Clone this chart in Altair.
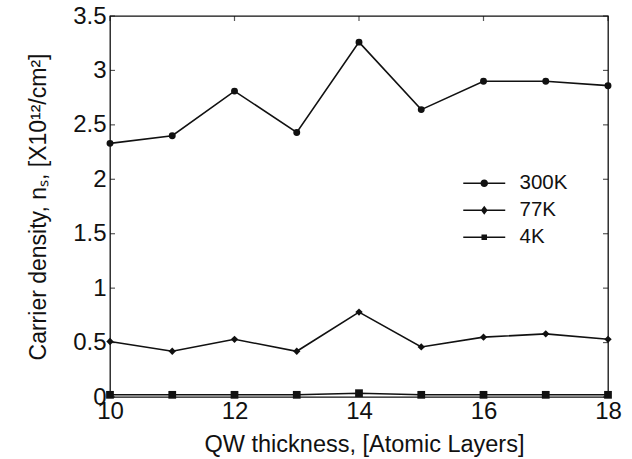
import altair as alt
import pandas as pd

# Carrier density (x10^12 / cm^2) versus quantum-well thickness
thickness = [10, 11, 12, 13, 14, 15, 16, 17, 18]
n_300k = [2.33, 2.40, 2.81, 2.43, 3.26, 2.64, 2.90, 2.90, 2.86]
n_77k = [0.51, 0.42, 0.53, 0.42, 0.78, 0.46, 0.55, 0.58, 0.53]
n_4k = [0.02, 0.02, 0.02, 0.02, 0.035, 0.02, 0.02, 0.02, 0.02]
series = ["300K", "77K", "4K"]
x_ticks = [10, 12, 14, 16, 18]
y_ticks = [0, 0.5, 1, 1.5, 2, 2.5, 3, 3.5]

rows = []
for name, vals in zip(series, [n_300k, n_77k, n_4k]):
    for t, v in zip(thickness, vals):
        rows.append({"thickness": t, "density": v, "series": name})
df = pd.DataFrame(rows)

FONT = "Liberation Sans"
INK = "#111111"

x_scale = alt.Scale(domain=[10, 18], nice=False, zero=False)
y_scale = alt.Scale(domain=[0, 3.5], nice=False)

x_enc = alt.X(
    "thickness:Q",
    scale=x_scale,
    axis=alt.Axis(
        values=x_ticks, format="d", ticks=False, domain=False, grid=False,
        labelFontSize=24, labelPadding=2, labelFlush=False,
        title="QW thickness, [Atomic Layers]", titleFontSize=23.5,
        titlePadding=9, titleX=254,
    ),
)
y_enc = alt.Y(
    "density:Q",
    scale=y_scale,
    axis=alt.Axis(
        values=y_ticks, format="~g", ticks=False, domain=False, grid=False,
        labelFontSize=24, labelPadding=4, labelFlush=False,
        title="Carrier density, nₛ, [X10¹²/cm²]", titleFontSize=23,
        titlePadding=22,
    ),
)

lines = alt.Chart(df).mark_line(color=INK, strokeWidth=1.6).encode(
    x=x_enc, y=y_enc, detail="series:N"
)

points = alt.Chart(df).mark_point(filled=True, color=INK, opacity=1).encode(
    x="thickness:Q",
    y="density:Q",
    shape=alt.Shape(
        "series:N",
        scale=alt.Scale(domain=series, range=["circle", "diamond", "square"]),
        legend=None,
    ),
    size=alt.Size(
        "series:N",
        scale=alt.Scale(domain=series, range=[48, 60, 30]),
        legend=None,
    ),
)

# Legend keys: a short line with the series marker in the middle
legend_paths = [
    "M-2.5,-0.08L2.5,-0.08L2.5,0.08L-2.5,0.08Z"
    "M-0.45,0A0.45,0.45,0,1,1,0.45,0A0.45,0.45,0,1,1,-0.45,0Z",
    "M-2.5,-0.08L2.5,-0.08L2.5,0.08L-2.5,0.08Z"
    "M0,-0.55L0.4,0L0,0.55L-0.4,0Z",
    "M-2.5,-0.08L2.5,-0.08L2.5,0.08L-2.5,0.08Z"
    "M-0.33,-0.33L0.33,-0.33L0.33,0.33L-0.33,0.33Z",
]
legend_df = pd.DataFrame({"key": series})
legend_layer = (
    alt.Chart(legend_df)
    .transform_filter("false")
    .mark_point(filled=True, color=INK, opacity=1)
    .encode(
        shape=alt.Shape(
            "key:N",
            scale=alt.Scale(domain=series, range=legend_paths),
            legend=alt.Legend(
                title=None, orient="none", legendX=364, legendY=157,
                labelFontSize=20.5, labelFont=FONT, labelColor=INK,
                labelOffset=25, symbolSize=282, rowPadding=6,
                symbolFillColor=INK, symbolStrokeColor=INK,
                symbolStrokeWidth=0, symbolOpacity=1, padding=0,
            ),
        )
    )
)

# Inward tick marks on all four sides of the box
xt = pd.DataFrame({"thickness": x_ticks})
yt = pd.DataFrame({"density": y_ticks})
tick_style = dict(color=INK, thickness=1.2, size=5)
ticks_bottom = alt.Chart(xt).mark_tick(orient="vertical", yOffset=-2.5, **tick_style).encode(
    x="thickness:Q", y=alt.datum(0)
)
ticks_top = alt.Chart(xt).mark_tick(orient="vertical", yOffset=2.5, **tick_style).encode(
    x="thickness:Q", y=alt.datum(3.5)
)
ticks_left = alt.Chart(yt).mark_tick(orient="horizontal", xOffset=2.5, **tick_style).encode(
    y="density:Q", x=alt.datum(10)
)
ticks_right = alt.Chart(yt).mark_tick(orient="horizontal", xOffset=-2.5, **tick_style).encode(
    y="density:Q", x=alt.datum(18)
)

chart = (
    alt.layer(lines, points, ticks_bottom, ticks_top, ticks_left, ticks_right, legend_layer)
    .resolve_scale(shape="independent")
    .properties(
        width=498,
        height=381,
        autosize=alt.AutoSizeParams(type="none"),
        padding={"left": 110, "top": 16, "right": 24, "bottom": 62},
        background="white",
    )
    .configure_view(stroke=INK, strokeWidth=1.3)
    .configure_axis(
        labelFont=FONT, titleFont=FONT, labelColor=INK, titleColor=INK,
        titleFontWeight="normal",
    )
)

chart.save("out.html", embed_options={"renderer": "svg", "actions": False})
